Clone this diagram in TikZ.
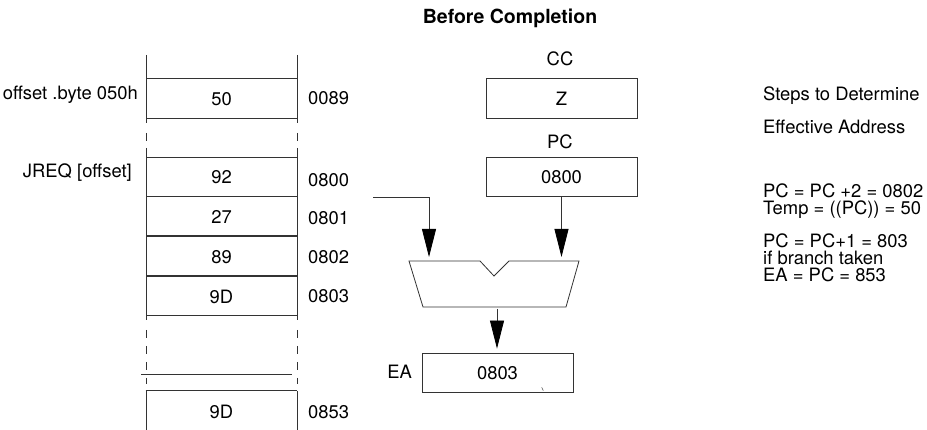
\documentclass[tikz,border=0pt]{standalone}
\usepackage{fontspec}
\setmainfont{TeX Gyre Heros}
\usetikzlibrary{arrows.meta,positioning}

\begin{document}
\begin{tikzpicture}[x=1pt,y=-1pt,>={Triangle[length=28pt,width=14pt,color=black]},
  font=\fontsize{18.4}{20}\selectfont,
  every node/.style={inner sep=0pt},
  ln/.style={black!80,line width=.8pt},
  cell/.style={ln,draw,text=black,minimum width=151pt,minimum height=39pt,text height=15pt,text depth=0pt}]
\useasboundingbox (0,0) rectangle (927,430);
\node[anchor=base,font=\fontsize{19.5}{22}\selectfont\bfseries] (title) at (510,24) {Before Completion};
% memory column
\node[cell,minimum height=40pt] (m50) at (221.5,98) {50};
\node[cell] (m92) at (221.5,176.5) {92};
\node[cell,below=0pt of m92] (m27) {27};
\node[cell,below=0pt of m27] (m89) {89};
\node[cell,below=0pt of m89] (m9D) {9D};
\node[cell,draw=none] (m853) at (221.5,410.5) {9D};
\foreach \x in {146,297}{
\draw[ln] (\x,55)--(\x,123);
\draw[ln] (\x,133)--(\x,141);
\draw[ln] (\x,148)--(\x,320);
\draw[ln,dash pattern=on 8pt off 8pt] (\x,330)--(\x,384);
\draw[ln] (\x,391)--(\x,430);}
\draw[ln] (m853.north west)--(m853.north east);
\draw[ln] (141,374)--(292,374);
\node[anchor=base east] (offsetlbl) at (138,100) {offset .byte 050h};
\node[anchor=base east] (jreqlbl) at (132,178) {JREQ [offset]};
\foreach \n/\a/\y in {a89/0089/105,a800/0800/187,a801/0801/225,a802/0802/264,a803/0803/303,a853/0853/418}
\node[anchor=base west] (\n) at (308,\y) {\a};
% registers
\node[anchor=base] (cclbl) at (560,66) {CC};
\node[cell,minimum height=40pt] (cc) at (561.5,98) {Z};
\node[anchor=base] (pclbl) at (560,149) {PC};
\node[cell] (pc) at (561.5,176.5) {0800};
% adder
\draw[ln] (409,261)--(480,261)--(494,276)--(509,261)--(579,261)--(566,307)--(423,307)--cycle;
\coordinate (inL) at (429,261);
\coordinate (inR) at (561.5,261);
\coordinate (from800) at (373,197);
\coordinate (aluout) at (497,309);
\node[cell] (ea) at (497.5,372.5) {0803};
\node[anchor=base east] (ealbl) at (412,379) {EA};
\draw[black!70,line width=.5pt] (541.7,387.3)--(543.3,390.7);
\draw[ln,->,shorten >=4pt] (from800) -| (inL);
\draw[ln,->,shorten >=4pt] (pc) -- (inR);
\draw[ln,->,shorten >=4pt] (aluout) -- (aluout |- ea.north);
% steps
\node[anchor=base west] (steps) at (763,101) {Steps to Determine};
\node[anchor=base west] (effaddr) at (763,134) {Effective Address};
\foreach \n/\t/\y in {s1/{PC = PC +2 = 0802}/198,s2/{Temp = ((PC)) = 50}/215,s3/{PC = PC+1 = 803}/248,s4/{if branch taken}/265,s5/{EA = PC = 853}/282}
\node[anchor=base west] (\n) at (763,\y) {\t};
\end{tikzpicture}
\end{document}
